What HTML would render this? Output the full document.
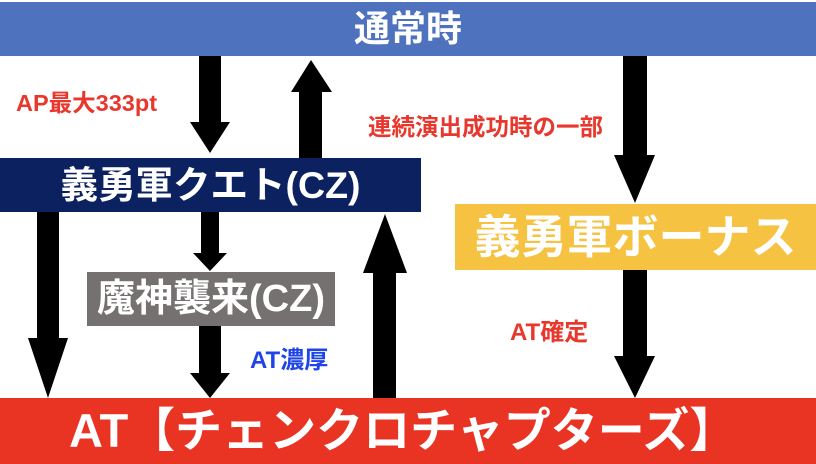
<!DOCTYPE html>
<html><head><meta charset="utf-8"><style>
html,body{margin:0;padding:0;}
body{width:816px;height:464px;position:relative;background:#fff;overflow:hidden;font-family:"Liberation Sans","Noto Sans CJK JP",sans-serif;font-weight:bold;}
.box{position:absolute;display:flex;align-items:center;justify-content:center;color:#fff;white-space:nowrap;}
.lbl{position:absolute;white-space:nowrap;}
svg{position:absolute;left:0;top:0;}
</style></head><body>
<div class="box" style="left:0;top:2px;width:816px;height:54px;background:#4F72BE;font-size:36px;line-height:54px;">通常時</div>
<div class="box" style="left:0;top:158px;width:421px;height:54px;background:#0C2160;font-size:37.5px;line-height:54px;">義勇軍クエト(CZ)</div>
<div class="box" style="left:455px;top:204px;width:361px;height:66px;background:#F5C242;font-size:46px;line-height:66px;">義勇軍ボーナス</div>
<div class="box" style="left:87px;top:272px;width:248px;height:54px;background:#767171;font-size:38px;line-height:54px;">魔神襲来(CZ)</div>
<div class="box" style="left:0;top:398px;width:816px;height:66px;background:#E93424;font-size:47px;line-height:66px;justify-content:flex-start;"><span style="margin-left:69px;">AT【チェンクロチャプターズ】</span></div>

<div class="lbl" style="left:16px;top:91px;font-size:23.5px;line-height:25px;color:#E8372C;">AP最大333pt</div>
<div class="lbl" style="left:368px;top:115px;font-size:23.5px;line-height:25px;color:#E8372C;">連続演出成功時の一部</div>
<div class="lbl" style="left:250px;top:348px;font-size:24px;line-height:25px;color:#1F44E8;">AT濃厚</div>
<div class="lbl" style="left:510px;top:320px;font-size:24px;line-height:25px;color:#E8372C;">AT確定</div>

<svg width="816" height="464" viewBox="0 0 816 464">
<g fill="#000">
<polygon points="199,56 221,56 221,122 230,122 210,153 190,122 199,122"/>
<polygon points="299,158 322,158 322,92 332,92 311,60 291,92 299,92"/>
<polygon points="623,56 647,56 647,155 655,155 635,203 614,155 623,155"/>
<polygon points="37,212 59,212 59,338 68,338 48,398 28,338 37,338"/>
<polygon points="201,212 219,212 219,253 227,253 210,271 193,253 201,253"/>
<polygon points="199,326 221,326 221,373 230,373 210,398 190,373 199,373"/>
<polygon points="373,398 396,398 396,273 407,273 385,214 363,273 373,273"/>
<polygon points="623,270 647,270 647,356 655,356 635,398 614,356 623,356"/>
</g>
</svg>
</body></html>
